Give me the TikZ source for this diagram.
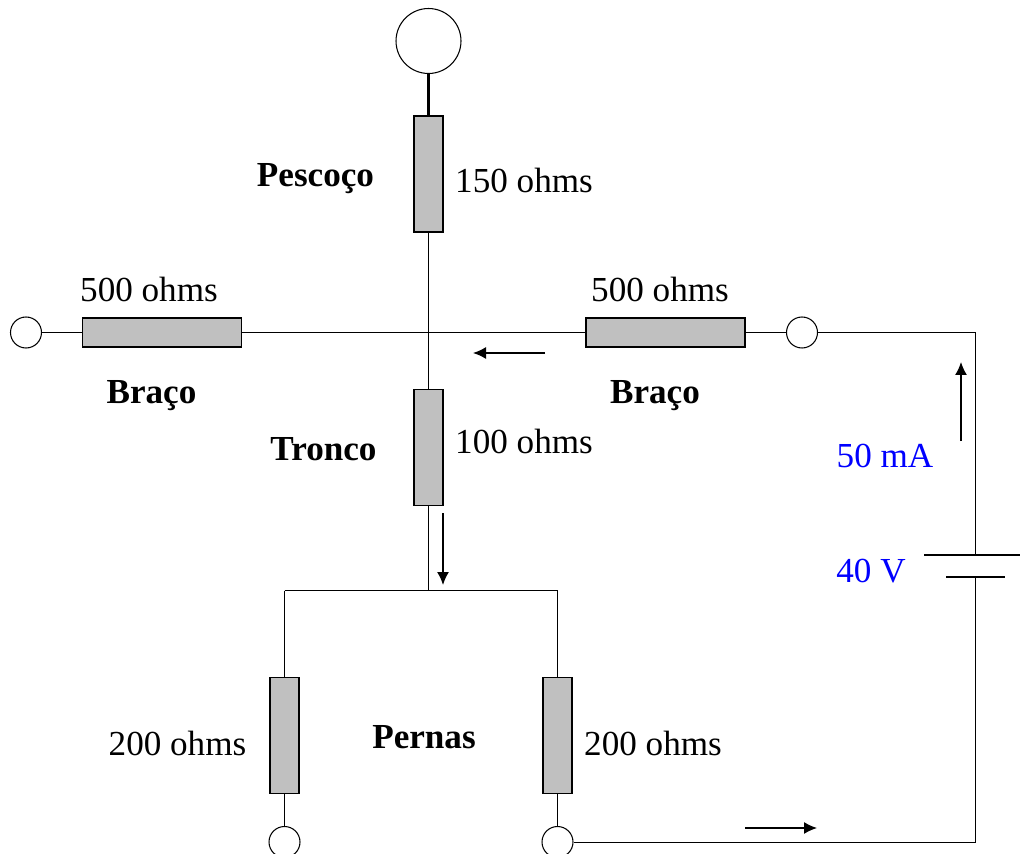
\documentclass[tikz,border=0pt]{standalone}
\usepackage{fontspec}
\setmainfont{Liberation Serif}
\usetikzlibrary{arrows.meta}
\definecolor{resgray}{RGB}{192,192,192}
\definecolor{voltblue}{RGB}{0,0,255}
\begin{document}
\begin{tikzpicture}[x=0.02cm,y=-0.02cm,line width=0.6pt,
    vres/.style={draw, fill=resgray, minimum width=0.58cm, minimum height=2.32cm, inner sep=0},
    hres/.style={draw, fill=resgray, minimum width=3.18cm, minimum height=0.58cm, inner sep=0},
    term/.style={draw, circle, fill=white, minimum size=0.62cm, inner sep=0},
    val/.style={anchor=base, font=\fontsize{20}{24}\selectfont},
    part/.style={anchor=base, font=\fontsize{20}{24}\selectfont\bfseries},
    src/.style={anchor=base, text=voltblue, font=\fontsize{20}{24}\selectfont},
    flow/.style={-{Latex[length=0.26cm,width=0.24cm]}, line width=0.8pt}]
    \useasboundingbox (0,0) rectangle (1020,854);

    \node[draw, circle, minimum size=1.3cm, inner sep=0] (head) at (428.5,41) {};
    \node[vres] (neck) at (428.5,174) {};
    \node[vres] (trunk) at (428.5,447.5) {};
    \node[vres] (lleg) at (284.5,735.5) {};
    \node[vres] (rleg) at (557.5,735.5) {};
    \node[hres] (larm) at (162,332.5) {};
    \node[hres] (rarm) at (665.5,332.5) {};
    \node[term] (lhand) at (26,332.5) {};
    \node[term] (rhand) at (802,332.5) {};
    \node[term] (lfoot) at (284.5,842) {};
    \node[term] (rfoot) at (557.5,842) {};

    \coordinate (chest) at (428.5,332.5);
    \coordinate (hip) at (428.5,590.5);
    \coordinate (lhip) at (284.5,590.5);
    \coordinate (rhip) at (557.5,590.5);
    \coordinate (tr) at (975.5,332.5);
    \coordinate (br) at (975.5,842.5);
    \coordinate (platea) at (975.5,555);
    \coordinate (plateb) at (975.5,577);
    \coordinate (plateal) at (924,555);
    \coordinate (platear) at (1020,555);
    \coordinate (platebl) at (946,577);
    \coordinate (platebr) at (1005,577);

    \draw [line width=1.8pt] (head) -- (neck);
    \draw (neck) -- (trunk);
    \draw (lhand) -- (larm);
    \draw (larm) -- (rarm);
    \draw (rarm) -- (rhand);
    \draw (trunk) -- (hip);
    \draw (lhip) -- (rhip);
    \draw (lhip) -- (lleg);
    \draw (rhip) -- (rleg);
    \draw (lleg) -- (lfoot);
    \draw (rleg) -- (rfoot);
    \draw (rhand) -- (tr) -- (platea);
    \draw (plateb) -- (br) -- (rfoot.east |- br);
    \draw [line width=1pt] (plateal) -- (platear);
    \draw [line width=1pt] (platebl) -- (platebr);

    \coordinate (fa) at (545,353);
    \coordinate (fb) at (473,353);
    \coordinate (fc) at (443,513);
    \coordinate (fd) at (443,585);
    \coordinate (fe) at (961,441);
    \coordinate (ff) at (961,362);
    \coordinate (fg) at (745,828);
    \coordinate (fh) at (817,828);
    \draw [flow] (fa) -- (fb);
    \draw [flow] (fc) -- (fd);
    \draw [flow] (fe) -- (ff);
    \draw [flow] (fg) -- (fh);

    \node[val] (rneck) at (524,193) {150 ohms};
    \node[val] (rlarm) at (149,302) {500 ohms};
    \node[val] (rrarm) at (660,302) {500 ohms};
    \node[val] (rtrunk) at (524,453) {100 ohms};
    \node[val] (rlleg) at (177.5,755) {200 ohms};
    \node[val] (rrleg) at (653,755) {200 ohms};
    \node[part] (pneck) at (315.5,187) {Pescoço};
    \node[part] (plarm) at (151.5,403) {Braço};
    \node[part] (prarm) at (655,403) {Braço};
    \node[part] (ptrunk) at (323.5,460) {Tronco};
    \node[part] (plegs) at (424,748) {Pernas};
    \node[src] (amps) at (885,467) {50 mA};
    \node[src] (volts) at (871,582) {40 V};
\end{tikzpicture}
\end{document}
